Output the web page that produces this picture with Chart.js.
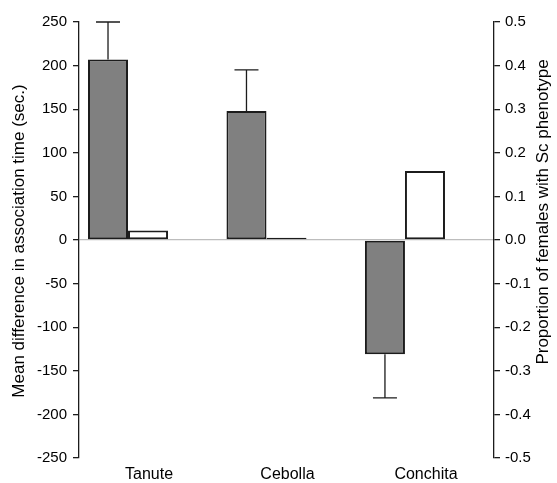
<!DOCTYPE html>
<html>
<head>
<meta charset="utf-8">
<script src="https://cdn.jsdelivr.net/npm/chart.js@4"></script>
<style>
  html, body { margin: 0; padding: 0; background: #fff; }
  #wrap { width: 557px; height: 483px; }
</style>
</head>
<body>
<div id="wrap"><canvas id="chart" width="557" height="483"></canvas></div>
<script>
'use strict';

// ─── Data ─────────────────────────────────────────────────
const categories = ['Tanute', 'Cebolla', 'Conchita'];
const meanDiff = [207, 148, -131];       // left axis, sec.
const meanErr = [43, 47, 50];            // one-sided error, away from zero
const proportion = [0.022, 0.005, 0.158]; // right axis

const leftTicks = [-250, -200, -150, -100, -50, 0, 50, 100, 150, 200, 250];
const rightTicks = [-0.5, -0.4, -0.3, -0.2, -0.1, 0, 0.1, 0.2, 0.3, 0.4, 0.5];

const FONT = '"Liberation Sans", Arial, sans-serif';
const INK = '#1c1c1c';

// Error bars on the grey series + both axis titles, drawn after the bars
const extras = {
  id: 'extras',
  afterDatasetsDraw(chart) {
    const { ctx } = chart;
    const y = chart.scales.y;
    const meta = chart.getDatasetMeta(0);
    ctx.save();
    ctx.strokeStyle = INK;
    ctx.lineWidth = 1.3;
    meta.data.forEach((bar, i) => {
      const v = meanDiff[i];
      const end = v + Math.sign(v) * meanErr[i];
      const y0 = y.getPixelForValue(v);
      const y1 = y.getPixelForValue(end);
      ctx.beginPath();
      ctx.moveTo(bar.x, y0);
      ctx.lineTo(bar.x, y1);
      ctx.moveTo(bar.x - 12, y1);
      ctx.lineTo(bar.x + 12, y1);
      ctx.stroke();
    });

    ctx.fillStyle = '#000';
    ctx.font = '17px ' + FONT;
    ctx.textAlign = 'center';
    ctx.textBaseline = 'middle';
    ctx.translate(19, 241);
    ctx.rotate(-Math.PI / 2);
    ctx.fillText('Mean difference in association time (sec.)', 0, 0);
    ctx.restore();

    ctx.save();
    ctx.fillStyle = '#000';
    ctx.font = '17px ' + FONT;
    ctx.textAlign = 'center';
    ctx.textBaseline = 'middle';
    ctx.translate(543, 212);
    ctx.rotate(-Math.PI / 2);
    ctx.fillText('Proportion of females with Sc phenotype', 0, 0);
    ctx.restore();
  }
};

const idx = categories.map((c, i) => i);

new Chart(document.getElementById('chart'), {
  type: 'bar',
  data: {
    datasets: [
      {
        label: 'Mean difference',
        data: idx.map(i => ({ x: i, y: meanDiff[i] })),
        backgroundColor: '#808080',
        borderColor: INK,
        borderWidth: 2,
        borderSkipped: false,
        yAxisID: 'y',
      },
      {
        label: 'Proportion',
        data: idx.map(i => ({ x: i, y: proportion[i] })),
        backgroundColor: '#ffffff',
        borderColor: INK,
        borderWidth: 2,
        borderSkipped: false,
        yAxisID: 'y2',
      },
    ],
  },
  options: {
    responsive: false,
    animation: false,
    categoryPercentage: 0.578,
    barPercentage: 1,
    layout: { padding: { top: 22, left: 0, right: 0, bottom: 0 } },
    plugins: {
      legend: { display: false },
      tooltip: { enabled: false },
    },
    scales: {
      x: {
        type: 'linear',
        offset: false,
        min: -0.354,
        max: 2.643,
        afterBuildTicks: s => { s.ticks = idx.map(i => ({ value: i })); },
        afterFit: s => { s.height = 25; },
        grid: { display: false, drawTicks: false, offset: false },
        border: { display: false },
        ticks: {
          color: '#000',
          font: { family: FONT, size: 16 },
          padding: 7,
          labelOffset: 21,
          autoSkip: false,
          maxRotation: 0,
          callback: v => categories[v],
        },
      },
      y: {
        position: 'left',
        min: -250,
        max: 250,
        afterBuildTicks: s => { s.ticks = leftTicks.map(v => ({ value: v })); },
        afterFit: s => { s.width = 79; },
        border: { display: true, color: INK, width: 1.3 },
        grid: {
          color: c => (c.tick && c.tick.value === 0 ? '#bdbdbd' : 'rgba(0,0,0,0)'),
          tickColor: INK,
          tickLength: 6,
          lineWidth: 1.3,
        },
        ticks: {
          color: '#000',
          font: { family: FONT, size: 15 },
          padding: 6,
        },
      },
      y2: {
        position: 'right',
        min: -0.5,
        max: 0.5,
        afterBuildTicks: s => { s.ticks = rightTicks.map(v => ({ value: v })); },
        afterFit: s => { s.width = 63; },
        border: { display: true, color: INK, width: 1.3 },
        grid: {
          drawOnChartArea: false,
          tickColor: INK,
          tickLength: 6,
          lineWidth: 1.3,
        },
        ticks: {
          color: '#000',
          font: { family: FONT, size: 15 },
          padding: 5,
          callback: v => v.toFixed(1),
        },
      },
    },
  },
  plugins: [extras],
});
</script>
</body>
</html>
